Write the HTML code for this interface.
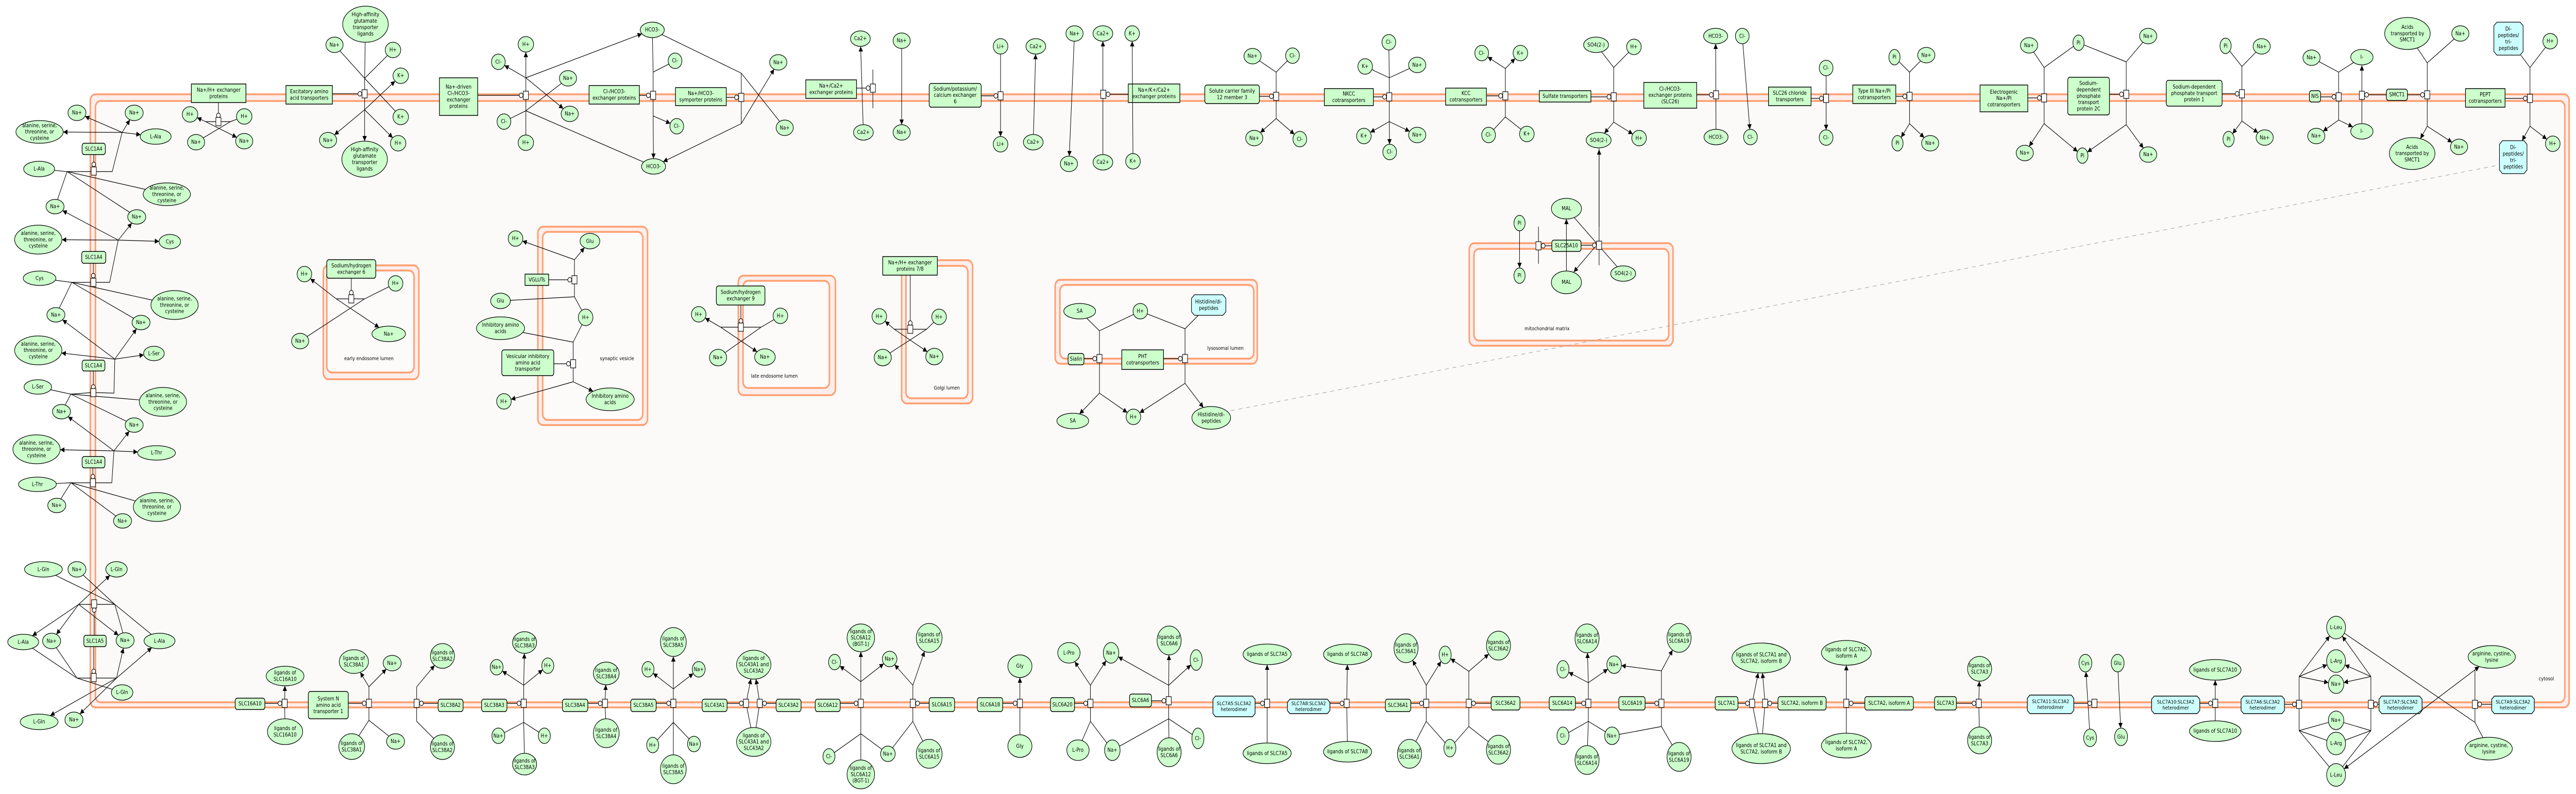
<!DOCTYPE html>
<html><head><meta charset="utf-8"><meta name="viewport" content="width=5991"><style>
html,body{margin:0;padding:0;background:#fff;overflow:hidden;width:100vw;height:100vh;}
svg{display:block;width:100vw;height:100vh;font-family:"DejaVu Sans","Liberation Sans",sans-serif;}
</style></head><body>
<svg id="s" xmlns="http://www.w3.org/2000/svg" viewBox="0 0 5991 1541" preserveAspectRatio="none">
<defs><marker id="a" viewBox="0 0 10 10" refX="10" refY="5" markerWidth="10" markerHeight="10" orient="auto" markerUnits="userSpaceOnUse"><path d="M0,0 L10,5 L0,10z" fill="#000"/></marker></defs>
<rect width="5991" height="1541" fill="#ffffff"/>
</svg>
<script>
const NS='http://www.w3.org/2000/svg';const svg=document.getElementById('s');
function el(n,a,p){const e=document.createElementNS(NS,n);for(const k in a)e.setAttribute(k,a[k]);(p||svg).appendChild(e);return e;}
function txt(x,y,t,fs){fs=fs||10.5;const L=t.split('\n');const lh=fs*1.18;const t0=y-(L.length-1)*lh/2;const te=el('text',{x:x,y:t0,'font-size':fs,'text-anchor':'middle','dominant-baseline':'central',fill:'#000'});L.forEach((l,i)=>{const ts=el('tspan',{x:x,y:t0+i*lh},te);ts.textContent=l;});}
function oct(x1,y1,x2,y2,c){return `${x1+c},${y1} ${x2-c},${y1} ${x2},${y1+c} ${x2},${y2-c} ${x2-c},${y2} ${x1+c},${y2} ${x1},${y2-c} ${x1},${y1+c}`;}
function S(x,y,rx,ry,t,cy){if(cy){el('polygon',{points:oct(x-rx,y-ry,x+rx,y+ry,7),fill:'#ccffff',stroke:'#000','stroke-width':1.3});txt(x,y,t);return {x,y,rx,ry,r:1};}
 el('ellipse',{cx:x,cy:y,rx:rx,ry:ry,fill:'#ccffcc',stroke:'#000','stroke-width':1.3});txt(x,y,t);return {x,y,rx,ry};}
function n(x,y,t,rx,ry){return S(x,y,rx||20,ry||15,t);}
function bp(s,px,py){const dx=px-s.x,dy=py-s.y;let t;if(s.r){t=Math.min(s.rx/Math.max(Math.abs(dx),1e-6),s.ry/Math.max(Math.abs(dy),1e-6));}else t=1/Math.sqrt((dx/s.rx)**2+(dy/s.ry)**2+1e-12);t=Math.min(t,1);return [s.x+dx*t,s.y+dy*t];}
function Ln(p,a,ex){const o={points:p.map(q=>q[0].toFixed(1)+','+q[1].toFixed(1)).join(' '),fill:'none',stroke:'#000','stroke-width':1.2};if(a)o['marker-end']='url(#a)';if(ex)for(const k in ex)o[k]=ex[k];el('polyline',o);}
function E(s,px,py,a){const b=bp(s,px,py);if(a)Ln([[px,py],b],1);else Ln([b,[px,py]]);}
function LL(s1,s2,a){const b1=bp(s1,s2.x,s2.y),b2=bp(s2,s1.x,s1.y);Ln([b1,b2],a);}
function P(x,y){el('rect',{x:x-6,y:y-8,width:12,height:16,fill:'#fff',stroke:'#000','stroke-width':1.2});}
function K(x,y){el('circle',{cx:x,cy:y,r:4.5,fill:'#fff',stroke:'#000','stroke-width':1.2});}
function B(x1,y1,x2,y2,t,r,fs){el('rect',{x:x1,y:y1,width:x2-x1,height:y2-y1,rx:r?5:0,fill:'#ccffcc',stroke:'#000','stroke-width':1.5});txt((x1+x2)/2,(y1+y2)/2,t,fs);}
function CB(x1,y1,x2,y2,t){el('polygon',{points:oct(x1,y1,x2,y2,6),fill:'#ccffff',stroke:'#000','stroke-width':1.5});txt((x1+x2)/2,(y1+y2)/2,t,10);}
function cat(bx,x,y){const cx=bx<x?x-11:x+11;Ln([[bx,y],[cx,y]]);K(cx,y);}
function VR(x,y,j1,j2,tops,bots,bx){const a=j1==null?y:j1,b=j2==null?y:j2;if(j1!=null)Ln([[x,j1],[x,y]]);if(j2!=null)Ln([[x,y],[x,j2]]);
 tops.forEach(q=>E(q[0],x,a,q[1]));bots.forEach(q=>E(q[0],x,b,q[1]));if(bx!=null)cat(bx,x,y);P(x,y);}
function XR(x,y,lx,rx,hl,hr,nl,nr,cy0){Ln([[lx,y],[rx,y]]);E(hl,lx,y,1);E(nr,lx,y,1);E(nl,rx,y);E(hr,rx,y);Ln([[x,cy0],[x,y-12]]);K(x,y-12);P(x,y);}
function rr(r,f){el('rect',{x:r[0],y:r[1],width:r[2]-r[0],height:r[3]-r[1],rx:12,fill:f,stroke:'#ff9f70','stroke-width':3.5});}
function M(o,i,fi){rr(o,'#fdeeec');rr(i,fi||'#fdfafa');}

M([210,183,5975,1373],[222,196,5965,1363],'#fcfaf9');
M([752,515,974,736],[760,525,963,723]);
M([1251,440,1506,825],[1262,450,1495,815]);
M([1717,535,1943,767],[1728,545,1929,753]);
M([2097,505,2262,783],[2107,516,2251,773]);
M([2454,543,2924,706],[2465,553,2916,696]);
M([3417,472,3891,671],[3428,483,3881,661]);
txt(858,696,'early endosome lumen',10);txt(1435,696,'synaptic vesicle',10);txt(1801,730,'late endosome lumen',10);
txt(2202,753,'Golgi lumen',10);txt(2850,676,'lysosomal lumen',10);txt(3598,638,'mitochondrial matrix',10);txt(5922,1317,'cytosol',10);
Ln([[2845,800],[5814,320]],0,{stroke:'#aaaaaa','stroke-dasharray':'9 9'});

const AL='alanine, serine,\nthreonine, or\ncysteine';
B(191,278,245,300,'SLC1A4',1);
let a1=n(179,219,'Na+',21,15),a2=n(312,219,'Na+',21,15),a3=S(92,256,55,22,AL),a4=n(362,265,'L-Ala',36,15),a5=n(91,328,'L-Ala',36,15),a6=S(388,377,55,22,AL),a7=n(128,401,'Na+',21,14),a8=n(318,421,'Na+',21,14);
Ln([[156,333],[212,333]]);Ln([[224,333],[261,333],[284,257]]);[a1,a3,a4,a2].forEach(s=>E(s,284,257,1));[a5,a6,a7,a8].forEach(s=>E(s,156,333));Ln([[218,300],[218,315]]);K(218,319);P(218,332);
B(190,488,246,511,'SLC1A4',1);
let c1=S(89,465,55,28,AL),c2=n(395,469,'Cys',25,14),c3=n(92,540,'Cys',38,14),c4=S(406,592,55,28,AL),c5=n(130,611,'Na+',21,14),c6=n(328,626,'Na+',21,14);
Ln([[167,548],[211,548]]);Ln([[223,548],[255,548],[275,466]]);[a7,c1,c2,a8].forEach(s=>E(s,275,466,1));[c3,c4,c5,c6].forEach(s=>E(s,167,548));Ln([[217,511],[217,531]]);K(217,535);P(217,548);
B(191,699,244,720,'SLC1A4',1);
let d1=S(89,680,55,28,AL),d2=n(358,686,'L-Ser',24,14),d3=n(88,751,'L-Ser',32,14),d4=S(379,780,55,28,AL),d5=n(143,799,'Na+',21,14),d6=n(312,825,'Na+',21,14);
Ln([[165,765],[211,762]]);Ln([[223,762],[265,763],[267,697]]);[c5,d1,d2,c6].forEach(s=>E(s,267,697,1));[d3,d4,d5,d6].forEach(s=>E(s,165,765));Ln([[217,720],[217,747]]);K(217,751);P(217,762);
B(191,886,244,908,'SLC1A4',1);
let f1=S(85,872,55,28,AL),f2=n(364,879,'L-Thr',44,14),f3=n(87,940,'L-Thr',44,14),f4=S(365,984,55,28,AL),f5=n(132,981,'Na+',21,14),f6=n(285,1011,'Na+',21,14);
Ln([[165,937],[210,937]]);Ln([[222,937],[260,937],[265,875]]);[d5,f1,f2,d6].forEach(s=>E(s,265,875,1));[f3,f4,f5,f6].forEach(s=>E(s,165,937));Ln([[216,908],[216,921]]);K(216,925);P(216,937);
B(195,1233,247,1255,'SLC1A5',1);
let g1=n(101,1105,'L-Gln',44,15),g2=n(179,1105,'Na+',21,15),g3=n(271,1105,'L-Gln',25,15),g4=n(54,1246,'L-Ala',36,15),g5=n(120,1244,'Na+',21,15),g6=n(291,1243,'Na+',21,15),g7=n(371,1244,'L-Ala',36,15),g8=n(284,1344,'L-Gln',25,15),g9=n(91,1401,'L-Gln',44,15),g10=n(172,1397,'Na+',21,15);
Ln([[183,1173],[267,1173]]);[g1,g2,g6,g7].forEach(s=>E(s,267,1173));[g3,g4,g5,g6].forEach(s=>E(s,183,1173,1));Ln([[219,1233],[219,1188]]);K(219,1184);P(219,1172);
Ln([[179,1316],[271,1316]]);[g4,g5,g8].forEach(s=>E(s,179,1316));[g6,g7,g9,g10].forEach(s=>E(s,271,1316,1));Ln([[218,1255],[218,1299]]);K(218,1303);P(218,1315);

B(445,163,572,199,'Na+/H+ exchanger\nproteins');
XR(508,236,478,536,n(442,222,'H+',18,15),n(568,226,'H+',18,15),n(456,276,'Na+',20,15),n(568,274,'Na+',20,15),199);
B(665,166,773,202,'Excitatory amino\nacid transporters');
{let ha1=n(850,47,'High-affinity\nglutamate\ntransporter\nligands',53,35),na1=n(778,87,'Na+',20,15),h1=n(914,97,'H+',18,15),k1=n(932,147,'K+',18,15),k2=n(932,227,'K+',18,15),na2=n(763,272,'Na+',20,15),ha2=n(848,309,'High-affinity\nglutamate\ntransporter\nligands',53,35),h2=n(926,278,'H+',18,15);
VR(848,182,152,213,[[ha1,0],[na1,0],[h1,0],[k2,0]],[[na2,1],[ha2,1],[h2,1],[k1,1]],773);}
B(1022,151,1111,224,'Na+-driven\nCl-/HCO3-\nexchanger\nproteins');
let hcoT=n(1517,58,'HCO3-',28,15),hcoB=n(1520,323,'HCO3-',28,15);
{let h1=n(1223,86,'H+',18,15),cl1=n(1159,120,'Cl-',16,15),na1=n(1321,152,'Na+',20,15),na2=n(1325,221,'Na+',20,15),cl2=n(1172,236,'Cl-',16,15),h2=n(1223,277,'H+',18,15);
VR(1223,185,151,215,[[h1,1],[cl1,1],[hcoT,1],[na2,1]],[[na1,0],[cl2,0],[h2,0],[hcoB,0]],1111);}
B(1370,166,1487,202,'Cl-/HCO3-\nexchanger proteins');
{let clA=n(1570,118,'Cl-',16,15),clB=n(1574,245,'Cl-',16,15);VR(1519,185,140,225,[[hcoT,0],[clA,0]],[[hcoB,1],[clB,1]],1487);}
B(1571,170,1689,205,'Na+/HCO3-\nsymporter proteins');
{let naA=n(1810,121,'Na+',20,15),naB=n(1825,248,'Na+',20,15);VR(1724,189,142,240,[[hcoT,0],[naB,0]],[[naA,1],[hcoB,1]],1689);}
B(1874,155,1992,191,'Na+/Ca2+\nexchanger proteins');
{let cA=n(2001,75,'Ca2+',23,15),nA=n(2097,79,'Na+',20,15),cB=n(2008,257,'Ca2+',23,15),nB=n(2097,257,'Na+',20,15);Ln([[2030,135],[2030,210]]);LL(cB,cA,1);LL(nA,nB,1);cat(1992,2030,171);P(2030,171);}
B(2161,162,2282,208,'Sodium/potassium/\ncalcium exchanger\n6',1);
{let lA=n(2327,90,'Li+',17,15),cA=n(2409,90,'Ca2+',23,15),lB=n(2327,280,'Li+',17,15),cB=n(2403,276,'Ca2+',23,15);LL(lA,lB,1);LL(cB,cA,1);cat(2282,2327,186);P(2327,186);}
B(2624,163,2744,199,'Na+/K+/Ca2+\nexchanger proteins');
{let a=n(2499,65,'Na+',20,15),b=n(2565,65,'Ca2+',23,15),c=n(2633,65,'K+',17,15),d=n(2486,318,'Na+',20,15),e=n(2565,315,'Ca2+',23,15),f=n(2635,313,'K+',17,15);LL(a,d,1);LL(e,b,1);LL(f,c,1);cat(2624,2566,183);P(2566,183);}
B(2802,165,2929,201,'Solute carrier family\n12 member 3',1);
VR(2968,187,140,230,[[n(2913,109,'Na+'),0],[n(3006,108,'Cl-',16)]],[[n(2917,268,'Na+'),1],[n(3023,270,'Cl-',16),1]],2929);
B(3080,172,3194,205,'NKCC\ncotransporters');
VR(3231,188,151,236,[[n(3230,82,'Cl-',16),0],[n(3175,129,'K+',17),0],[n(3296,126,'Na+'),0]],[[n(3172,264,'K+',17),1],[n(3232,295,'Cl-',16),1],[n(3296,262,'Na+'),1]],3194);
B(3362,171,3457,204,'KCC\ncotransporters');
VR(3501,186,133,227,[[n(3446,103,'Cl-',16),1],[n(3536,103,'K+',17),1]],[[n(3462,262,'Cl-',16),0],[n(3551,260,'K+',17),0]],3457);
B(3580,176,3700,198,'Sulfate transporters');
let so4c=n(3718,272,'SO4(2-)',29,15);
VR(3753,188,131,237,[[n(3712,87,'SO4(2-)',29,15),0],[n(3800,91,'H+',17),0]],[[so4c,1],[n(3812,268,'H+',17),1]],3700);
B(3823,160,3946,210,'Cl-/HCO3-\nexchanger proteins\n(SLC26)');
{let a=n(3990,70,'HCO3-',28,15),b=n(4052,70,'Cl-',16),c=n(3991,266,'HCO3-',28,15),d=n(4071,266,'Cl-',16);LL(c,a,1);LL(b,d,1);cat(3946,3991,184);P(3991,184);}
B(4113,169,4212,205,'SLC26 chloride\ntransporters');
VR(4247,191,null,null,[[n(4247,132,'Cl-',16),0]],[[n(4247,267,'Cl-',16),1]],4212);
B(4309,165,4409,201,'Type III Na+/Pi\ncotransporters');
VR(4441,187,140,240,[[n(4406,111,'Pi',13),0],[n(4480,107,'Na+'),0]],[[n(4413,278,'Pi',13),1],[n(4489,278,'Na+'),1]],4409);
B(4605,165,4716,217,'Electrogenic\nNa+/Pi\ncotransporters');
let piT=n(4834,83,'Pi',13),piB=n(4843,302,'Pi',13);
VR(4754,190,131,240,[[n(4719,88,'Na+'),0],[piT,0]],[[n(4709,297,'Na+'),1],[piB,1]],4716);
B(4809,150,4906,223,'Sodium-\ndependent\nphosphate\ntransport\nprotein 2C',1);
VR(4945,183,120,242,[[piT,0],[n(4996,70,'Na+'),0]],[[piB,1],[n(4996,300,'Na+'),1]],4906);
B(5038,156,5168,206,'Sodium-dependent\nphosphate transport\nprotein 1',1);
VR(5214,182,129,235,[[n(5176,89,'Pi',13),0],[n(5260,90,'Na+'),0]],[[n(5183,270,'Pi',13),1],[n(5267,267,'Na+'),1]],5168);
B(5371,176,5397,198,'NIS',1);
{let iT=n(5493,111,'I-',26,15),iB=n(5493,255,'I-',26,15);
VR(5439,188,140,233,[[n(5376,112,'Na+'),0],[iT,0]],[[n(5387,264,'Na+'),1],[iB,1]],5397);
Ln([[5493,240],[5493,193]]);Ln([[5493,177],[5493,127]],1);Ln([[5504,184],[5550,184]]);K(5504,184);P(5493,185);}
B(5550,173,5599,195,'SMCT1',1);
VR(5645,184,122,245,[[n(5599,65,'Acids\ntransported by\nSMCT1',53,31),0],[n(5722,65,'Na+'),0]],[[n(5610,298,'Acids\ntransported by\nSMCT1',53,31),1],[n(5719,285,'Na+'),1]],5599);
B(5734,172,5826,208,'PEPT\ncotransporters');
VR(5884,191,131,245,[[S(5834,75,34,32,'Di-\npeptides/\ntri-\npeptides',1),0],[n(5931,80,'H+',17),0]],[[S(5845,305,32,32,'Di-\npeptides/\ntri-\npeptides',1),1],[n(5937,279,'H+',17),1]],5826);

B(760,504,874,540,'Sodium/hydrogen\nexchanger 6',1);
XR(817,580,782,848,n(708,532,'H+',17,15),n(920,550,'H+',17,15),n(698,662,'Na+',20,15),n(904,648,'Na+',39,15),540);
B(1666,555,1779,592,'Sodium/hydrogen\nexchanger 9',1);
XR(1723,635,1676,1770,n(1625,610,'H+',17,15),n(1815,613,'H+',17,15),n(1670,694,'Na+',20,16),n(1779,693,'Na+',24,16),592);
B(2053,498,2180,534,'Na+/H+ exchanger\nproteins 7/8');
XR(2117,639,2080,2155,n(2045,614,'H+',17,15),n(2184,615,'H+',17,15),n(2053,694,'Na+',20,16),n(2173,692,'Na+',20,16),534);
B(1221,532,1276,554,'VGLUTs');
let hR=n(1362,616,'H+',17,16);
VR(1336,543,504,576,[[n(1199,463,'H+',17,15),1],[n(1372,468,'Glu',23,15),1]],[[n(1164,584,'Glu',23,15),0],[hR,0]],1276);
B(1167,679,1288,729,'Vesicular inhibitory\namino acid\ntransporter',1);
VR(1333,706,664,741,[[S(1164,637,56,22,'Inhibitory amino\nacids'),0],[hR,0]],[[n(1172,779,'H+',17,15),1],[S(1419,775,56,22,'Inhibitory amino\nacids'),1]],1288);
B(2484,686,2521,708,'Sialin',1);
let hT=n(2652,604,'H+',17,15),hB=n(2636,809,'H+',17,15);
VR(2557,696,642,763,[[n(2511,604,'SA',37,15),0],[hT,0]],[[n(2495,817,'SA',37,15),1],[hB,1]],2521);
B(2609,679,2706,717,'PHT\ncotransporters');
VR(2756,696,638,744,[[hT,0],[S(2811,592,40,20,'Histidine/di-\npeptides',1),0]],[[hB,1],[S(2817,811,45,22,'Histidine/di-\npeptides'),1]],2706);
B(3609,466,3677,488,'SLC25A10',1);
{let malT=n(3643,405,'MAL',35,20),piA=n(3534,433,'Pi',13,15),piC=n(3534,535,'Pi',13,15),malB=n(3643,548,'MAL',35,22),so=n(3775,531,'SO4(2-)',29,15);
Ln([[3578,440],[3578,512]]);LL(piA,piC,1);LL(malB,malT,1);cat(3609,3578,477);P(3578,477);
Ln([[3719,288],[3719,515]]);Ln([[3719,440],[3719,290]],1);LL(malT,so,0);Ln([[3719,470],[3660,528]],1);cat(3677,3719,476);P(3719,476);}

const Y=1365;
function BR(x,j1,j2,tops,bots,bx){VR(x,Y,j1,j2,tops.map(s=>[s,1]),bots.map(s=>[s,0]),bx);}
B(547,1355,616,1377,'SLC16A10',1);
BR(662,null,null,[n(663,1312,'ligands of\nSLC16A10',44,19)],[n(663,1420,'ligands of\nSLC16A10',41,25)],616);
B(717,1342,810,1395,'System N\namino acid\ntransporter 1',1);
BR(858,1333,1398,[n(823,1284,'ligands of\nSLC38A1',34,23),n(912,1287,'Na+',21,15)],[n(818,1449,'ligands of\nSLC38A1',30,25),n(920,1439,'Na+',21,15)],810);
B(1019,1357,1077,1381,'SLC38A2',1);
BR(969,1333,1400,[n(1029,1273,'ligands of\nSLC38A2',28,24)],[n(1029,1450,'ligands of\nSLC38A2',28,24)],1019);
B(1120,1357,1179,1381,'SLC38A3',1);
BR(1218,1330,1402,[n(1220,1247,'ligands of\nSLC38A3',28,21),n(1155,1295,'Na+',15),n(1274,1292,'H+',14)],[n(1159,1428,'Na+',15),n(1266,1428,'H+',14),n(1220,1483,'ligands of\nSLC38A3',28,21)],1179);
B(1308,1357,1367,1381,'SLC38A4',1);
BR(1407,null,null,[n(1410,1307,'ligands of\nSLC38A4',30,22)],[n(1410,1423,'ligands of\nSLC38A4',30,28)],1367);
B(1467,1357,1526,1381,'SLC38A5',1);
BR(1566,1337,1402,[n(1566,1246,'ligands of\nSLC38A5',30,28),n(1507,1299,'H+',14),n(1625,1299,'Na+',15)],[n(1518,1446,'H+',14),n(1614,1444,'Na+',15),n(1566,1493,'ligands of\nSLC38A5',30,28)],1526);
B(1633,1357,1691,1381,'SLC43A1',1);B(1805,1357,1863,1381,'SLC43A2',1);
{let t=n(1753,1290,'ligands of\nSLC43A1 and\nSLC43A2',40,28),b=n(1753,1440,'ligands of\nSLC43A1 and\nSLC43A2',40,28);BR(1735,null,null,[t],[b],1691);BR(1767,null,null,[t],[b],1805);}
B(1896,1357,1954,1381,'SLC6A12',1);
let na69T=n(2069,1279,'Na+',17),na69B=n(2065,1463,'Na+',17);
BR(2002,1323,1424,[n(2002,1238,'ligands of\nSLC6A12\n(BGT-1)',32,27),n(1941,1285,'Cl-',14),na69T],[n(1928,1468,'Cl-',14),na69B,n(2002,1503,'ligands of\nSLC6A12\n(BGT-1)',32,28)],1954);
B(2161,1354,2220,1381,'SLC6A15',1);
BR(2123,1330,1400,[n(2161,1238,'ligands of\nSLC6A15',30,28),na69T],[n(2161,1463,'ligands of\nSLC6A15',30,28),na69B],2161);
B(2273,1354,2332,1381,'SLC6A18',1);
BR(2372,null,null,[n(2372,1293,'Gly',28,22)],[n(2372,1448,'Gly',28,22)],2332);
B(2443,1354,2499,1381,'SLC6A20',1);
let na58T=n(2584,1267,'Na+',18,20),na58B=n(2587,1456,'Na+',18,20);
BR(2536,1330,1400,[n(2486,1267,'L-Pro',26,20),na58T],[n(2507,1456,'L-Pro',26,20),na58B],2499);
B(2627,1347,2678,1372,'SLC6A6',1);
VR(2718,1360,1330,1395,[[n(2719,1243,'ligands of\nSLC6A6',28,28),1],[n(2782,1281,'Cl-',14,20),1],[na58T,1]],[[n(2719,1460,'ligands of\nSLC6A6',28,28),0],[n(2786,1433,'Cl-',14,20),0],[na58B,0]],2678);
CB(2821,1351,2919,1391,'SLC7A5:SLC3A2\nheterodimer');
BR(2947,null,null,[n(2947,1270,'ligands of SLC7A5',56,20)],[n(2947,1462,'ligands of SLC7A5',56,20)],2919);
CB(2994,1357,3093,1385,'SLC7A8:SLC3A2\nheterodimer');
BR(3132,null,null,[n(3134,1270,'ligands of SLC7A8',56,20)],[n(3134,1459,'ligands of SLC7A8',56,20)],3093);
B(3222,1357,3281,1381,'SLC36A1',1);
let h36T=n(3361,1271,'H+',14,17),h36B=n(3372,1452,'H+',14,17);
BR(3317,1330,1400,[n(3270,1258,'ligands of\nSLC36A1',28,28),h36T],[n(3278,1463,'ligands of\nSLC36A1',28,28),h36B],3281);
B(3468,1352,3535,1378,'SLC36A2',1);
BR(3416,1303,1410,[n(3485,1253,'ligands of\nSLC36A2',28,28),h36T],[n(3485,1455,'ligands of\nSLC36A2',28,28),h36B],3468);
B(3603,1352,3664,1378,'SLC6A14',1);
let na37T=n(3754,1290,'Na+',17,17),na37B=n(3749,1428,'Na+',17,17);
BR(3694,1325,1400,[n(3691,1239,'ligands of\nSLC6A14',28,28),n(3635,1299,'Cl-',14,17),na37T],[n(3635,1428,'Cl-',14,17),n(3691,1475,'ligands of\nSLC6A14',28,28),na37B],3664);
B(3765,1352,3826,1378,'SLC6A19',1);
BR(3864,1302,1410,[n(3905,1238,'ligands of\nSLC6A19',28,28),na37T],[n(3905,1469,'ligands of\nSLC6A19',28,28),na37B],3826);
B(3989,1352,4042,1378,'SLC7A1',1);B(4135,1352,4247,1378,'SLC7A2, isoform B',1);
{let t=n(4096,1277,'ligands of SLC7A1 and\nSLC7A2, isoform B',68,29),b=n(4096,1453,'ligands of SLC7A1 and\nSLC7A2, isoform B',68,29);BR(4075,null,null,[t],[b],4042);BR(4105,null,null,[t],[b],4135);}
B(4337,1352,4450,1378,'SLC7A2, isoform A',1);
BR(4294,null,null,[n(4294,1267,'ligands of SLC7A2,\nisoform A',58,24)],[n(4294,1447,'ligands of SLC7A2,\nisoform A',58,24)],4337);
B(4499,1352,4550,1378,'SLC7A3',1);
BR(4602,null,null,[n(4604,1298,'ligands of\nSLC7A3',28,24)],[n(4604,1437,'ligands of\nSLC7A3',28,26)],4550);
CB(4715,1349,4823,1385,'SLC7A11:SLC3A2\nheterodimer');
{let a=n(4850,1287,'Cys',15,17),b=n(4925,1287,'Glu',15,17),c=n(4861,1432,'Cys',15,17),d=n(4933,1430,'Glu',15,17);LL(c,a,1);LL(b,d,1);cat(4823,4871,Y);P(4871,Y);}
CB(5004,1351,5116,1385,'SLC7A10:SLC3A2\nheterodimer');
BR(5152,null,null,[n(5152,1300,'ligands of SLC7A10',60,20)],[n(5152,1419,'ligands of SLC7A10',60,20)],5116);
CB(5212,1351,5313,1385,'SLC7A6:SLC3A2\nheterodimer');CB(5533,1351,5633,1385,'SLC7A7:SLC3A2\nheterodimer');
{let lT=n(5433,1218,'L-Leu',22,22),rT=n(5433,1283,'L-Arg',22,22),nT=n(5433,1328,'Na+',18,18),nB=n(5433,1398,'Na+',18,18),rB=n(5433,1443,'L-Arg',22,22),lB=n(5433,1504,'L-Leu',22,22);
VR(5347,1367,1313,1418,[[lT,1],[rT,1],[nT,1]],[[nB,0],[rB,0],[lB,0]],5313);
VR(5514,1367,1313,1418,[[lT,1],[rT,1],[nT,1]],[[nB,0],[rB,0],[lB,0]],5533);
CB(5795,1351,5894,1385,'SLC7A9:SLC3A2\nheterodimer');
let aT=n(5795,1275,'arginine, cystine,\nlysine',55,22),aB=n(5788,1453,'arginine, cystine,\nlysine',55,22);
VR(5756,1367,1300,1402,[[aT,1],[lB,1]],[[aB,0],[lT,0]],5795);}
</script>
</body></html>
